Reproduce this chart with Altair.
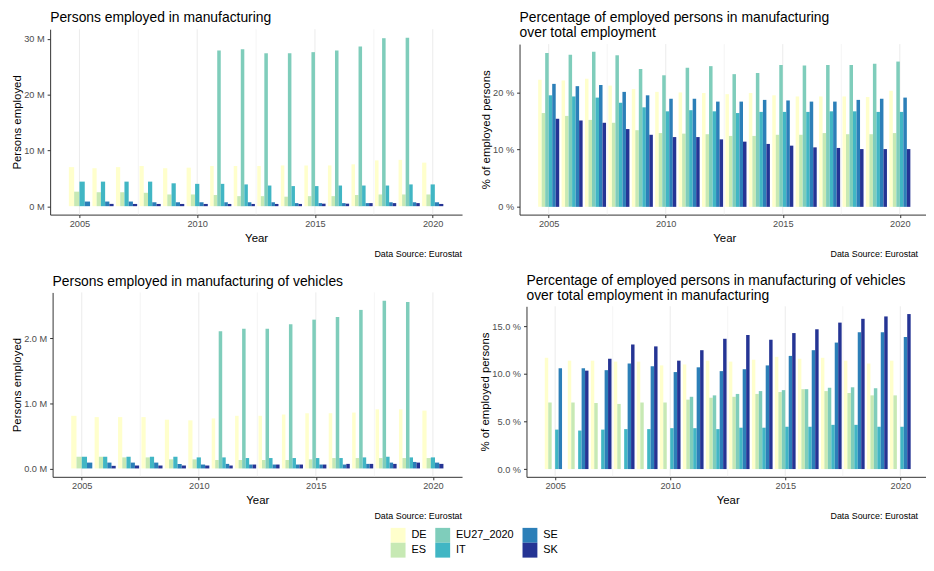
import altair as alt
import pandas as pd

FONT = "Liberation Sans"
NBSP = "\u00a0"

years = list(range(2005, 2021))
series = ["DE", "ES", "EU27_2020", "IT", "SE", "SK"]
palette = ["#ffffcc", "#c7e9b4", "#7fcdbb", "#41b6c4", "#2c7fb8", "#253494"]

# Persons employed in manufacturing (millions)
man_DE = [7.0, 6.8, 7.0, 7.2, 6.8, 6.9, 7.2, 7.2, 7.2, 7.3, 7.3, 7.3, 7.5, 8.2, 8.3, 7.8]
man_ES = [2.6, 2.5, 2.5, 2.4, 2.1, 2.1, 2.0, 1.8, 1.8, 1.7, 1.8, 1.8, 2.0, 2.1, 2.1, 2.1]
man_EU = [None, None, None, None, None, None, 27.9, 28.1, 27.4, 27.4, 27.6, 27.9, 28.6, 30.1, 30.2, None]
man_IT = [4.4, 4.4, 4.4, 4.4, 4.1, 4.0, 4.0, 3.9, 3.7, 3.6, 3.6, 3.7, 3.7, 3.7, 3.9, 3.9]
man_SE = [0.83, 0.83, 0.83, 0.7, 0.7, 0.7, 0.7, 0.7, 0.7, 0.55, 0.55, 0.55, 0.55, 0.7, 0.7, 0.7]
man_SK = [None, 0.41, 0.4, 0.4, 0.4, 0.4, 0.4, 0.4, 0.4, 0.4, 0.45, 0.45, 0.55, 0.55, 0.55, 0.4]

# % of employed persons in manufacturing over total employment
pct_DE = [22.2, 22.1, 22.4, 21.2, 20.6, 20.1, 20.0, 19.9, 19.7, 19.9, 19.5, 19.3, 19.3, 19.3, 19.2, 20.3]
pct_ES = [16.4, 15.9, 15.2, 14.7, 13.4, 12.9, 12.8, 12.7, 12.4, 12.4, 12.6, 12.6, 12.9, 12.7, 12.7, 12.9]
pct_EU = [26.9, 26.6, 27.1, 26.5, 24.1, 23.0, 24.3, 24.6, 23.2, 23.4, 24.8, 24.7, 24.8, 24.8, 25.0, 25.4]
pct_IT = [19.5, 19.3, 19.1, 18.2, 17.4, 16.7, 16.9, 16.7, 16.4, 16.6, 16.6, 16.6, 16.7, 16.7, 16.6, 16.6]
pct_SE = [21.5, 21.1, 21.3, 20.1, 19.5, 18.9, 18.9, 18.4, 18.4, 18.7, 18.6, 18.4, 18.4, 18.7, 18.9, 19.1]
pct_SK = [15.4, 15.1, 14.7, 13.6, 12.6, 12.2, 12.2, 11.8, 11.4, 11.0, 10.7, 10.4, 10.3, 10.1, 10.1, 10.1]

# Persons employed in manufacturing of vehicles (millions)
veh_DE = [0.81, 0.79, 0.79, 0.79, 0.75, 0.74, 0.77, 0.81, 0.81, 0.83, 0.85, 0.85, 0.86, 0.91, 0.91, 0.89]
veh_ES = [0.18, 0.18, 0.17, 0.17, 0.14, 0.14, 0.13, 0.13, 0.13, 0.13, 0.14, 0.16, 0.16, 0.16, 0.16, 0.16]
veh_EU = [None, None, None, None, None, None, 2.11, 2.15, 2.15, 2.22, 2.29, 2.33, 2.44, 2.58, 2.56, None]
veh_IT = [0.18, 0.18, 0.18, 0.18, 0.18, 0.17, 0.17, 0.16, 0.16, 0.16, 0.16, 0.16, 0.17, 0.18, 0.17, 0.17]
veh_SE = [0.09, 0.09, 0.09, 0.09, 0.07, 0.06, 0.07, 0.06, 0.06, 0.06, 0.06, 0.06, 0.07, 0.09, 0.10, 0.09]
veh_SK = [None, 0.04, 0.045, 0.045, 0.045, 0.045, 0.045, 0.06, 0.06, 0.06, 0.06, 0.07, 0.07, 0.07, 0.09, 0.07]

# % of employed persons in manufacturing of vehicles over manufacturing
vpc_DE = [11.7, 11.4, 11.4, 11.3, 11.3, 10.9, 11.0, 11.4, 11.3, 11.5, 11.8, 11.6, 11.7, 11.4, 11.1, 11.4]
vpc_ES = [7.0, 7.0, 6.95, 6.85, 7.0, 7.0, 7.3, 7.5, 7.6, 7.9, 8.1, 8.4, 8.2, 8.0, 7.75, 7.75]
vpc_EU = [None, None, None, None, None, None, 7.6, 7.75, 7.9, 8.2, 8.3, 8.4, 8.55, 8.6, 8.5, None]
vpc_IT = [4.15, 4.05, 4.15, 4.2, 4.2, 4.3, 4.3, 4.2, 4.35, 4.35, 4.45, 4.45, 4.65, 4.65, 4.45, 4.45]
vpc_SE = [10.6, 10.6, 10.4, 11.1, 10.8, 10.2, 10.7, 10.3, 10.5, 10.9, 11.9, 12.5, 13.3, 14.4, 14.4, 13.9]
vpc_SK = [None, 10.35, 11.6, 13.1, 12.9, 11.4, 12.5, 13.7, 14.1, 13.6, 14.3, 14.7, 15.4, 15.8, 16.05, 16.3]

caption = "Data Source: Eurostat"
x_grid_values = [2005, 2007.5, 2010, 2012.5, 2015, 2017.5, 2020]


def long_table(cols):
    rows = []
    for s, vals in zip(series, cols):
        for y, v in zip(years, vals):
            rows.append({"year": y, "series": s, "value": v})
    return pd.DataFrame(rows)


x_lo = years[0] - 0.45
x_hi = years[-1] + 0.45
x_pad = (x_hi - x_lo) * 0.05
x_domain = [x_lo - x_pad, x_hi + x_pad]

color = alt.Color(
    "series:N",
    scale=alt.Scale(domain=series, range=palette),
    legend=alt.Legend(orient="none", legendX=341, legendY=503, title=None, columns=3,
                      direction="vertical",
                      symbolType="square", symbolSize=225, symbolStrokeWidth=0,
                      symbolOpacity=1, labelFontSize=11, labelFont=FONT, labelColor="black",
                      rowPadding=0, columnPadding=8, labelOffset=6, padding=0),
)


def cond(test, minor_val, major_val):
    return {"condition": {"test": test, "value": minor_val}, "value": major_val}


def panel(cols, title, ytitle, W, H, top_gap, left_shift, title_offset, y_values,
          major_mod, label_fmt, suffix, drop_missing, cap_inset):
    df = long_table(cols)
    vals = [v for c in cols for v in c if v is not None]
    vmax = max(vals)
    y_domain = [-0.05 * vmax, 1.05 * vmax]
    y_minor = f"datum.value % {major_mod} != 0"
    y_scale = alt.Scale(domain=y_domain, nice=False, zero=False, range=[H, top_gap])
    x_scale = alt.Scale(domain=x_domain, nice=False, zero=False, range=[-left_shift, W])

    base = alt.Chart(df)
    if drop_missing:
        base = base.transform_filter("isValid(datum.value)")
    base = (base
            .transform_window(rank="row_number()", groupby=["year"], sort=[alt.SortField("series")])
            .transform_joinaggregate(n="count()", groupby=["year"])
            .transform_calculate(x0="datum.year - 0.45 + (datum.rank - 1) * 0.9 / datum.n",
                                 x1="datum.year - 0.45 + datum.rank * 0.9 / datum.n"))

    xgrid = alt.Chart(pd.DataFrame({"gx": x_grid_values})).mark_rule(color="#EBEBEB").encode(
        x=alt.X("gx:Q", scale=x_scale, title="Year"),
        y=alt.datum(y_domain[1]),
        y2=alt.datum(y_domain[0]),
        strokeWidth=alt.condition("datum.gx % 5 != 0", alt.value(0.5), alt.value(1)),
    )

    bars = base.mark_bar().encode(
        x=alt.X("x0:Q", scale=x_scale,
                axis=alt.Axis(values=[2005, 2010, 2015, 2020], title="Year", format="d",
                              grid=False)),
        x2="x1:Q",
        y=alt.Y("value:Q", scale=y_scale,
                axis=alt.Axis(values=y_values, title=ytitle, offset=left_shift,
                              labelExpr=f"{y_minor} ? '' : format(datum.value, '{label_fmt}') + ' {suffix}'",
                              tickOpacity=cond(y_minor, 0, 1),
                              gridWidth=cond(y_minor, 0.5, 1))),
        y2=alt.datum(0),
        color=color,
    )

    cap = alt.Chart(pd.DataFrame({"caption": [caption]})).mark_text(
        align="right", baseline="alphabetic", fontSize=9, font=FONT, color="black"
    ).encode(x=alt.value(W - cap_inset), y=alt.value(H + 43), text="caption:N")

    return alt.layer(xgrid, bars, cap).properties(
        width=W, height=H,
        title=alt.TitleParams(text=title, anchor="start", frame="group", fontSize=14,
                              fontWeight="normal", font=FONT, color="black",
                              offset=title_offset, lineHeight=15, dx=-left_shift),
    )


tl = panel([man_DE, man_ES, man_EU, man_IT, man_SE, man_SK],
           "Persons employed in manufacturing", "Persons employed",
           413, 187, 0, 2.5, 4, [0, 5, 10, 15, 20, 25, 30], 10, "d", "M", True, 0)
tr = panel([pct_DE, pct_ES, pct_EU, pct_IT, pct_SE, pct_SK],
           ["Percentage of employed persons in manufacturing", NBSP + "over total employment"],
           "% of employed persons", 406, 187, 15, 7, -11, [0, 5, 10, 15, 20, 25], 10, "d", "%",
           False, 11)
bl = panel([veh_DE, veh_ES, veh_EU, veh_IT, veh_SE, veh_SK],
           "Persons employed in manufacturing of vehicles", "Persons employed",
           413, 186, 0, 0, 3, [0, 0.5, 1, 1.5, 2, 2.5], 1, ".1f", "M", True, 0)
br = panel([vpc_DE, vpc_ES, vpc_EU, vpc_IT, vpc_SE, vpc_SK],
           ["Percentage of employed persons in manufacturing of vehicles",
            NBSP + "over total employment in manufacturing"],
           "% of employed persons", 406, 186, 14, 0, -10.5, [0, 2.5, 5, 7.5, 10, 12.5, 15], 5,
           ".1f", "%", False, 11)

chart = alt.concat(tl, tr, bl, br, columns=2, spacing={"row": 14.5, "column": 15}).properties(
    padding={"left": 3, "top": 0, "right": -10, "bottom": 0}
).configure_view(stroke=None).configure_axis(
    domainColor="#333333", domainWidth=1, tickColor="#333333", tickSize=3,
    gridColor="#EBEBEB", labelColor="#4D4D4D", labelFontSize=9.3, labelFont=FONT,
    titleFont=FONT, titleFontSize=11.5, titleFontWeight="normal", titleColor="black",
    labelPadding=2, titlePadding=4,
).configure_axisY(labelPadding=3, titlePadding=1)

chart.save("out.html", embed_options={"renderer": "svg", "actions": False})
